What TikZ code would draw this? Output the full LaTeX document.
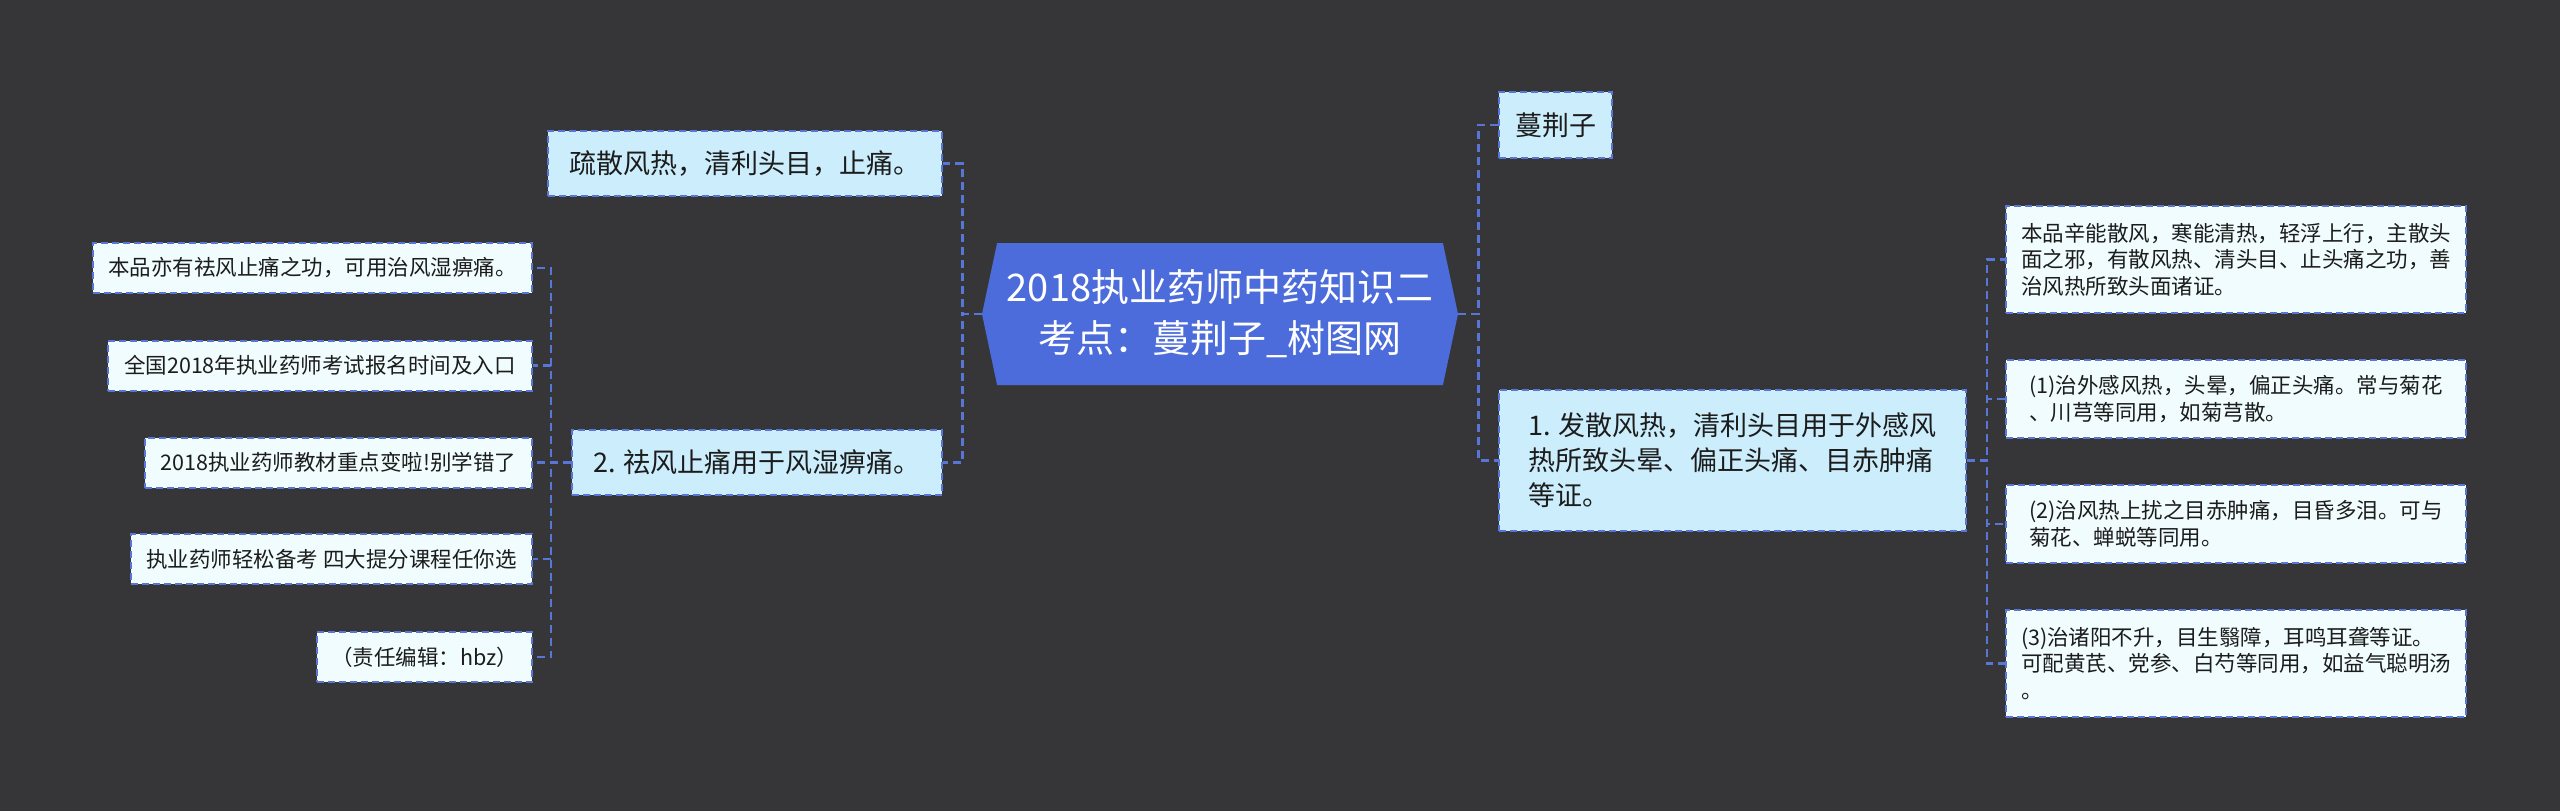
\documentclass[tikz,border=0pt]{standalone}
\usepackage{fontspec}
\setmainfont{Noto Sans CJK SC}
\usepackage{tikz}
\usetikzlibrary{shapes.symbols}

\definecolor{bgdark}{RGB}{54,54,56}
\definecolor{rootblue}{RGB}{76,108,220}
\definecolor{linkblue}{RGB}{88,118,216}
\definecolor{topicfill}{RGB}{204,238,252}
\definecolor{leaffill}{RGB}{240,252,253}
\definecolor{textdark}{RGB}{28,28,28}

\begin{document}
\begin{tikzpicture}[x=0.5pt,y=-0.5pt,
          rootbox/.style={signal, signal to=east and west, signal pointer angle=156,
              fill=rootblue, text=white, inner sep=0pt,
              minimum width=238pt, minimum height=71pt,
              font=\fontsize{19}{25.5}\selectfont, align=center},
          topicbox/.style={rectangle, draw=linkblue, dash pattern=on 3.5pt off 2pt,
              line width=1pt, fill=topicfill, text=textdark, inner sep=0pt,
              font=\fontsize{13.5}{17.5}\selectfont, align=left},
          leafbox/.style={rectangle, draw=linkblue, dash pattern=on 3.5pt off 2pt,
              line width=1pt, fill=leaffill, text=textdark, inner sep=0pt,
              font=\fontsize{10.75}{13.3}\selectfont, align=left},
          link/.style={draw=linkblue, line width=1.3pt, dash pattern=on 4pt off 2.5pt}
        ]
        \useasboundingbox[fill=bgdark] (0,0) rectangle (2560,811);

        \node[rootbox] (root) at (1220,314) {2018执业药师中药知识二\\考点：蔓荆子\_树图网};

        % left side
        \node[topicbox, minimum width=197pt, minimum height=32.5pt] (sanre) at (745,163.5)
          {疏散风热，清利头目，止痛。};
        \node[topicbox, minimum width=185pt, minimum height=32.5pt] (qufeng) at (757,462.5)
          {2. 祛风止痛用于风湿痹痛。};
        \node[leafbox, minimum width=219.5pt, minimum height=25pt] (lone) at (312.5,268)
          {本品亦有祛风止痛之功，可用治风湿痹痛。};
        \node[leafbox, minimum width=212pt, minimum height=25pt] (ltwo) at (320,365.5)
          {全国2018年执业药师考试报名时间及入口};
        \node[leafbox, minimum width=193.5pt, minimum height=25pt] (lthree) at (338.5,462.5)
          {2018执业药师教材重点变啦!别学错了};
        \node[leafbox, minimum width=200.5pt, minimum height=25pt] (lfour) at (331.5,559)
          {执业药师轻松备考 四大提分课程任你选};
        \node[leafbox, minimum width=107.5pt, minimum height=25pt] (lfive) at (424.5,657)
          {（责任编辑：hbz）};

        % right side
        \node[topicbox, minimum width=56.5pt, minimum height=33pt] (manjing) at (1555.5,125)
          {蔓荆子};
        \node[topicbox, minimum width=233.5pt, minimum height=70.5pt] (fasan) at (1732.5,460.5)
          {1. 发散风热，清利头目用于外感风\\热所致头晕、偏正头痛、目赤肿痛\\等证。};
        \node[leafbox, minimum width=230pt, minimum height=53.5pt] (rone) at (2236,259.5)
          {本品辛能散风，寒能清热，轻浮上行，主散头\\面之邪，有散风热、清头目、止头痛之功，善\\治风热所致头面诸证。};
        \node[leafbox, minimum width=230pt, minimum height=39pt] (rtwo) at (2236,399)
          {(1)治外感风热，头晕，偏正头痛。常与菊花\\、川芎等同用，如菊芎散。};
        \node[leafbox, minimum width=230pt, minimum height=39pt] (rthree) at (2236,524)
          {(2)治风热上扰之目赤肿痛，目昏多泪。可与\\菊花、蝉蜕等同用。};
        \node[leafbox, minimum width=230pt, minimum height=53.5pt] (rfour) at (2236,663.5)
          {(3)治诸阳不升，目生翳障，耳鸣耳聋等证。\\可配黄芪、党参、白芍等同用，如益气聪明汤\\。};

        \draw[link] (root.west) -- ++(-19,0) |- (sanre.east);
        \draw[link] (root.west) -- ++(-19,0) |- (qufeng.east);
        \draw[link] (qufeng.west) -- ++(-20,0) |- (lone.east);
        \draw[link] (qufeng.west) -- ++(-20,0) |- (ltwo.east);
        \draw[link] (qufeng.west) -- ++(-20,0) |- (lthree.east);
        \draw[link] (qufeng.west) -- ++(-20,0) |- (lfour.east);
        \draw[link] (qufeng.west) -- ++(-20,0) |- (lfive.east);
        \draw[link] (root.east) -- ++(20,0) |- (manjing.west);
        \draw[link] (root.east) -- ++(20,0) |- (fasan.west);
        \draw[link] (fasan.east) -- ++(20,0) |- (rone.west);
        \draw[link] (fasan.east) -- ++(20,0) |- (rtwo.west);
        \draw[link] (fasan.east) -- ++(20,0) |- (rthree.west);
        \draw[link] (fasan.east) -- ++(20,0) |- (rfour.west);
      \end{tikzpicture}
\end{document}
